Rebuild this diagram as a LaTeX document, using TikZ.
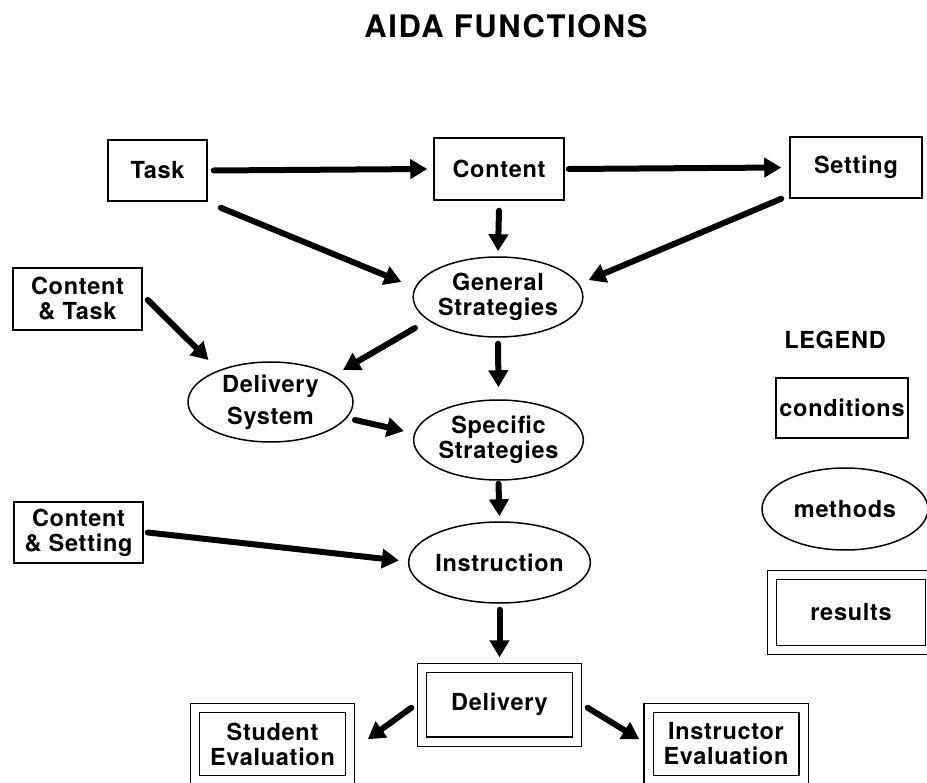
\documentclass[tikz,border=0pt]{standalone}
\usepackage{fontspec}
\setmainfont{TeX Gyre Heros}[LetterSpace=3]
\usetikzlibrary{shapes.geometric,arrows.meta,calc}
\tikzset{
  lbl/.style={font=\bfseries\fontsize{23.5}{25}\selectfont, align=center, inner sep=0pt},
  cond/.style={lbl, draw, line width=1.5pt, rectangle},
  meth/.style={lbl, draw, line width=1.5pt, ellipse},
  res/.style={lbl, draw, line width=1.4pt, double, double distance=8pt, rectangle},
  arr/.style={line width=6pt, line cap=round, -{Triangle[length=17pt,width=19pt]}}
}
\begin{document}
\begin{tikzpicture}[x=1pt,y=-1pt]
\useasboundingbox (0,0) rectangle (927,783);
\clip (0,0) rectangle (927,783);
\node[font=\bfseries\fontsize{31}{36}\selectfont\addfontfeatures{LetterSpace=5}, inner sep=0pt] (title) at (506,26) {AIDA FUNCTIONS};

\node[cond, minimum width=99pt, minimum height=61pt] (task) at (157.5,170.5) {Task};
\node[cond, minimum width=130pt, minimum height=62pt] (content) at (499,169) {Content};
\node[cond, minimum width=132pt, minimum height=61pt] (setting) at (856,167.5) {Setting};
\node[meth, minimum width=164pt, minimum height=80pt] (general) at (498,297) {General\\Strategies};
\node[cond, minimum width=129pt, minimum height=62pt] (ctask) at (77.5,299) {Content\\\& Task};
\node[meth, minimum width=165pt, minimum height=80pt] (dsys) at (270.5,402) {Delivery\\[7pt]System};
\node[meth, minimum width=167pt, minimum height=80pt] (specific) at (498.5,440) {Specific\\Strategies};
\node[cond, minimum width=129pt, minimum height=61pt] (csetting) at (78.5,532.5) {Content\\\& Setting};
\node[meth, minimum width=165pt, minimum height=81pt] (instr) at (499.5,562.5) {Instruction};
\node[res, minimum width=155pt, minimum height=73.5pt] (delivery) at (499.5,704.75) {Delivery};
\node[res, minimum width=155pt, minimum height=72pt] (student) at (272.5,744) {Student\\Evaluation};
\node[res, minimum width=155pt, minimum height=72pt] (instructor) at (726,744) {Instructor\\Evaluation};

\node[lbl] (legend) at (835,340) {LEGEND};
\node[cond, minimum width=132pt, minimum height=60pt] (conditions) at (842,408) {conditions};
\node[meth, minimum width=166pt, minimum height=82pt] (methods) at (845,509) {methods};
\node[res, minimum width=158pt, minimum height=75pt] (results) at (851,612.5) {results};

\draw[arr] ($(task.east)+(6,0)$) -- ($(content.west)+(-6,0)$);
\draw[arr] ($(content.east)+(4,0)$) -- ($(setting.west)+(-8,0)$);
\draw[arr] ($(content.south)+(0,10)$) -- ($(general.north)+(0,-5)$);
\draw[arr] ($(task.south east)+(13,6)$) -- ($(general.west)+(-11,-15)$);
\draw[arr] ($(setting.south west)+(-8,0)$) -- ($(general.east)+(5,-17)$);
\draw[arr] ($(ctask.east)+(5,1)$) -- ($(dsys.center)+(-62,-42)$);
\draw[arr] ($(general.center)+(-83,31)$) -- ($(dsys.center)+(72.5,-32)$);
\draw[arr] ($(general.south)+(0,6)$) -- ($(specific.north)+(0,-12)$);
\draw[arr] ($(dsys.center)+(84.5,18)$) -- ($(specific.west)+(-9,-9)$);
\draw[arr] ($(specific.south)+(0,3)$) -- ($(instr.north)+(0,-5)$);
\draw[arr] ($(csetting.east)+(4,0)$) -- ($(instr.west)+(-9,-2)$);
\draw[arr] ($(instr.south)+(0,6)$) -- ($(delivery.north)+(0,-10)$);
\draw[arr] ($(delivery.west)+(-10,3)$) -- ($(student.north east)+(17,32)$);
\draw[arr] ($(delivery.east)+(10,3)$) -- ($(instructor.north west)+(-8.5,32)$);
\end{tikzpicture}
\end{document}
